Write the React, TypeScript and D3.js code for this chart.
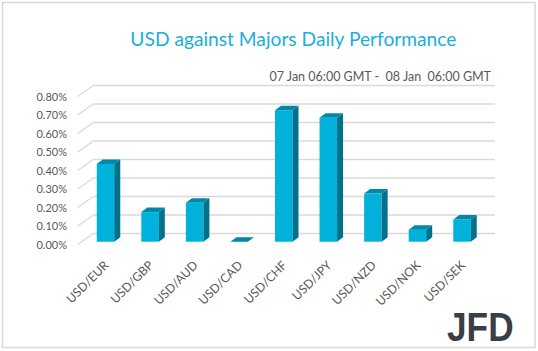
import React from 'react';
import * as d3 from 'd3';

const categories = ['USD/EUR', 'USD/GBP', 'USD/AUD', 'USD/CAD', 'USD/CHF', 'USD/JPY', 'USD/NZD', 'USD/NOK', 'USD/SEK'];
const values = [0.42, 0.16, 0.21, 0.0, 0.71, 0.67, 0.26, 0.065, 0.12];
const yTicks = [0, 0.1, 0.2, 0.3, 0.4, 0.5, 0.6, 0.7, 0.8];
const title = 'USD against Majors Daily Performance';
const subtitle = '07 Jan 06:00 GMT -  08 Jan  06:00 GMT';
const brand = 'JFD';

const W = 538;
const H = 351;

export default function App() {
  const yBack = d3.scaleLinear().domain([0, 0.8]).range([233.5, 85.5]);
  const x = d3.scalePoint<string>().domain(categories).range([105.5, 462]);
  const wallLeft = 93.3;
  const wallRight = 495;
  const floorDx = -15.5;
  const floorDy = 11;
  const frontOffset = 8.2;
  const barW = 17.5;
  const bdx = 6;
  const bdy = -4.5;
  const fmt = (v: number) => d3.format('.2f')(v) + '%';
  const font = 'Lato, "Open Sans", sans-serif';
  const logo = '#3a3f46';

  return (
    <svg width={W} height={H} style={{ position: 'absolute', left: 0, top: 0, background: '#fff' }}>
      <rect x={2.5} y={2.5} width={532.5} height={345} fill="#fff" stroke="#d9d9d9" strokeWidth={1.5} />
      <text x={293.4} y={46} textAnchor="middle" fontFamily={font} fontSize={19.2} fill="#1aaedb">
        {title}
      </text>
      <text x={491} y={80.5} textAnchor="end" fontFamily={font} fontSize={12.5} fill="#595959" style={{ whiteSpace: 'pre' }}>
        {subtitle}
      </text>
      {yTicks.map((t) => (
        <g key={t}>
          <line x1={wallLeft} x2={wallRight} y1={yBack(t)} y2={yBack(t)} stroke="#d9d9d9" strokeWidth={1.5} />
          <line x1={wallLeft} x2={wallLeft + floorDx} y1={yBack(t)} y2={yBack(t) + floorDy} stroke="#d9d9d9" strokeWidth={1.2} />
          <text x={67} y={yBack(t) + floorDy + 4} textAnchor="end" fontFamily={font} fontSize={11} fill="#595959">
            {fmt(t)}
          </text>
        </g>
      ))}
      {categories.map((c, i) => {
        const cx = x(c) as number;
        const x0 = cx - barW / 2;
        const x1 = cx + barW / 2;
        const yb = yBack(0) + frontOffset;
        const yt = yBack(values[i]) + frontOffset;
        const front = `M${x0},${yt}L${x1},${yt}L${x1},${yb}L${x0},${yb}Z`;
        const side = `M${x1},${yt}L${x1 + bdx},${yt + bdy}L${x1 + bdx},${yb + bdy}L${x1},${yb}Z`;
        const top = `M${x0},${yt}L${x1},${yt}L${x1 + bdx},${yt + bdy}L${x0 + bdx},${yt + bdy}Z`;
        return (
          <g key={c}>
            {values[i] > 0 && <path d={front} fill="#00b2db" />}
            {values[i] > 0 && <path d={side} fill="#00718a" />}
            <path d={top} fill="#0088a8" />
          </g>
        );
      })}
      {categories.map((c) => {
        const cx = x(c) as number;
        const ax = cx + 4;
        const ay = 266;
        return (
          <text key={c} x={ax} y={ay} transform={`rotate(-45 ${ax} ${ay})`} textAnchor="end" fontFamily={font} fontSize={12.2} fill="#595959">
            {c}
          </text>
        );
      })}
      <g transform="translate(447,341) scale(0.86,1)">
        <text x={0} y={0} fontFamily='"Liberation Sans", Arial, sans-serif' fontWeight={700} fontSize={41} fill={logo}>
          {brand}
        </text>
      </g>
    </svg>
  );
}
